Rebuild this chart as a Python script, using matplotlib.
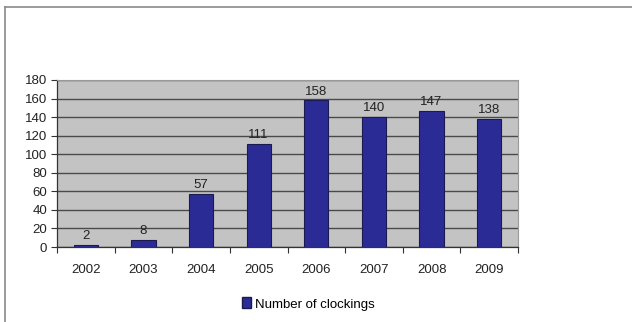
import matplotlib
matplotlib.use("Agg")
import matplotlib.pyplot as plt
from matplotlib.lines import Line2D
from matplotlib.patches import Patch
import numpy as np

years = ["2002", "2003", "2004", "2005", "2006", "2007", "2008", "2009"]
clockings = [2, 8, 57, 111, 158, 140, 147, 138]
y_ticks = [0, 20, 40, 60, 80, 100, 120, 140, 160, 180]

plt.rcParams["font.family"] = ["Liberation Sans", "DejaVu Sans"]

W, H = 632, 322
fig = plt.figure(figsize=(W / 100, H / 100), dpi=100)
fig.patch.set_facecolor("white")

# plot area in pixel coordinates
left, right, top, bottom = 57, 518, 80, 247
ax = fig.add_axes([left / W, 1 - bottom / H, (right - left) / W, (bottom - top) / H])
ax.set_facecolor("#c3c3c3")

x = np.arange(len(years))
bar_color = "#2b2b96"
ax.bar(x, clockings, width=0.42, color=bar_color, edgecolor="#1a1a50", linewidth=0.8, zorder=3)

for xi, v in zip(x, clockings):
    ax.text(xi, v + 3, str(v), ha="center", va="bottom", fontsize=9.5, color="#222222", zorder=4)

ax.set_xlim(-0.5, len(years) - 0.5)
ax.set_ylim(0, 180)
ax.set_yticks(y_ticks)
ax.set_yticklabels([str(t) for t in y_ticks], fontsize=9.5, color="#222222")
ax.yaxis.grid(True, color="#4a4a4a", linewidth=1.0, zorder=1)
ax.set_axisbelow(True)

# category labels centered under bars, ticks at category boundaries
ax.set_xticks(x)
ax.set_xticklabels(years, fontsize=9.5, color="#222222")
ax.tick_params(axis="x", length=0, pad=12)
ax.set_xticks(np.arange(len(years) + 1) - 0.5, minor=True)
ax.tick_params(axis="x", which="minor", length=4, width=0.8, color="#333333", direction="out")
ax.tick_params(axis="y", length=4, width=0.8, color="#333333", direction="out", pad=3)

for s in ["top", "right"]:
    ax.spines[s].set_color("#999999")
    ax.spines[s].set_linewidth(0.8)
ax.spines["left"].set_color("#333333")
ax.spines["bottom"].set_color("#333333")
ax.spines["left"].set_linewidth(0.9)
ax.spines["bottom"].set_linewidth(0.9)

# legend below the plot
handles = [Patch(facecolor=bar_color, edgecolor="#1a1a50", label="Number of clockings")]
fig.legend(handles=handles, loc="center", bbox_to_anchor=(308 / W, 1 - 304 / H),
           frameon=False, fontsize=9.5, handlelength=0.7, handleheight=0.9,
           handletextpad=0.3, borderpad=0)

# outer frame (left and top edges)
frame_color = "#8a8a8a"
fig.add_artist(Line2D([5 / W, 5 / W], [0, 1 - 7 / H], color=frame_color, linewidth=1.2,
                      transform=fig.transFigure))
fig.add_artist(Line2D([5 / W, 1], [1 - 7 / H, 1 - 7 / H], color=frame_color, linewidth=1.2,
                      transform=fig.transFigure))

fig.savefig("out.png", dpi=100)
